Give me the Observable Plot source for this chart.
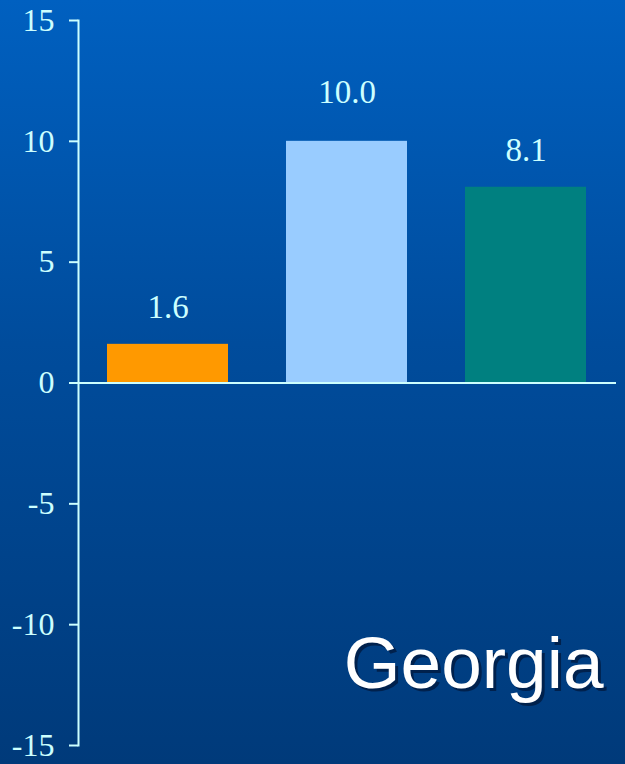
<!DOCTYPE html>
<html><head><meta charset="utf-8">
<script src="https://cdn.jsdelivr.net/npm/d3@7"></script>
<script src="https://cdn.jsdelivr.net/npm/@observablehq/plot@0.6"></script>
<style>html,body{margin:0;padding:0;background:#003a7a;overflow:hidden}</style>
</head><body><div id="chart"></div>
<script>
const categories = ["Series 1", "Series 2", "Series 3"];
const values = [1.6, 10.0, 8.1];
const colors = ["#ff9900", "#99ccff", "#008080"];
const labels = ["1.6", "10.0", "8.1"];
const yTicks = [-15, -10, -5, 0, 5, 10, 15];
const title = "Georgia";

const data = categories.map((c, i) => ({cat: c, value: values[i], color: colors[i], label: labels[i]}));
const ink = "#ccffff";

const chart = Plot.plot({
  width: 625,
  height: 764,
  marginLeft: 78,
  marginRight: 9,
  marginTop: 20,
  marginBottom: 19,
  style: {
    background: "linear-gradient(to bottom, #0060c0 0%, #004c9c 45%, #003a7a 100%)",
    fontFamily: "'Liberation Serif', 'Times New Roman', serif",
    fontSize: "32px",
    color: ink
  },
  x: {domain: categories, paddingInner: 0.324, paddingOuter: 0.162, axis: null},
  y: {domain: [-15, 15], axis: null},
  marks: [
    Plot.barY(data, {x: "cat", y: "value", fill: "color"}),
    Plot.ruleY([0], {stroke: ink, strokeWidth: 2}),
    Plot.frame({anchor: "left", stroke: ink, strokeWidth: 2}),
    Plot.axisY({ticks: yTicks, tickSize: 9, tickPadding: 15, tickFormat: d => String(d), color: ink, fontSize: 32, strokeWidth: 2, label: null}),
    Plot.text(data.filter(d => d.value < 10), {x: "cat", y: "value", text: "label", dy: -37, fill: ink, fontSize: 33}),
    Plot.text(data.filter(d => d.value >= 10), {x: "cat", y: "value", text: "label", dy: -49, fill: ink, fontSize: 33}),
    Plot.text([title], {frameAnchor: "bottom-right", lineAnchor: "bottom", textAnchor: "end", dx: -10, dy: -55, fill: "#001a40", fillOpacity: 0.8, fontSize: 73, fontFamily: "'Liberation Sans', Arial, sans-serif"}),
    Plot.text([title], {frameAnchor: "bottom-right", lineAnchor: "bottom", textAnchor: "end", dx: -13, dy: -58, fill: "#ffffff", fontSize: 73, fontFamily: "'Liberation Sans', Arial, sans-serif"})
  ]
});
document.getElementById("chart").appendChild(chart);
</script>
</body></html>
